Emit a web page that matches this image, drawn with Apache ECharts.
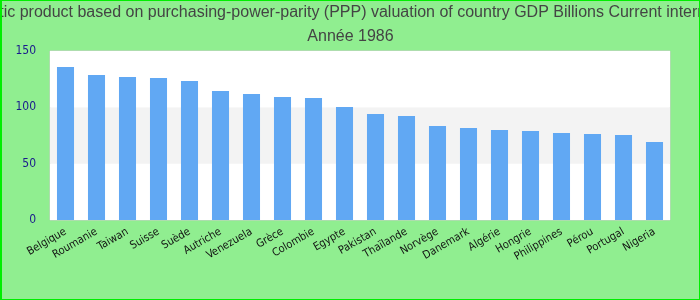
<!DOCTYPE html>
<html>
<head>
<meta charset="utf-8">
<script src="https://cdn.jsdelivr.net/npm/echarts@6/dist/echarts.min.js"></script>
<style>
html,body{margin:0;padding:0;background:#90ee90;}
#main{width:700px;height:300px;box-sizing:border-box;border:1px solid #00ee00;border-left-width:2px;}
</style>
</head>
<body>
<div id="main"></div>
<script>
var categories = ['Belgique','Roumanie','Taiwan','Suisse','Suède','Autriche','Venezuela','Grèce','Colombie','Egypte','Pakistan','Thaïlande','Norvège','Danemark','Algérie','Hongrie','Philippines','Pérou','Portugal','Nigeria'];
var values = [135.8,128.7,127,126,123.4,114.5,111.8,109.2,108.3,100.3,94.1,92.3,83.4,81.7,79.9,79,77.2,76.3,75.4,69.2];
var yTicks = [0,50,100,150];
var titleText = 'Gross domestic product based on purchasing-power-parity (PPP) valuation of country GDP Billions Current international dollar\nAnnée 1986';

var chart = echarts.init(document.getElementById('main'));
chart.setOption({
  backgroundColor: '#90ee90',
  animation: false,
  title: {
    text: titleText,
    left: 'center',
    top: 0,
    padding: 0,
    textStyle: {fontFamily: 'Liberation Sans', fontSize: 16, fontWeight: 'normal', color: '#444', lineHeight: 24}
  },
  grid: {left: 48, right: 29, top: 50, bottom: 79, show: true, backgroundColor: '#ffffff', borderColor: '#cccccc', borderWidth: 1, containLabel: false},
  xAxis: {
    type: 'category',
    data: categories,
    axisLine: {show: false},
    axisTick: {show: false},
    axisLabel: {rotate: 30, interval: 0, fontFamily: 'DejaVu Sans Condensed, DejaVu Sans', fontSize: 11, color: '#111', margin: 11}
  },
  yAxis: {
    type: 'value',
    min: yTicks[0],
    max: yTicks[yTicks.length - 1],
    interval: 50,
    axisLine: {show: false},
    axisTick: {show: false},
    splitLine: {show: false},
    splitArea: {show: true, areaStyle: {color: ['#ffffff', '#f3f3f3']}},
    axisLabel: {fontFamily: 'DejaVu Sans Condensed, DejaVu Sans', fontSize: 12, color: '#1a1a8c', margin: 14}
  },
  series: [{
    type: 'bar',
    data: values,
    barWidth: '55%',
    itemStyle: {color: '#61a8f3'}
  }]
});
</script>
</body>
</html>
